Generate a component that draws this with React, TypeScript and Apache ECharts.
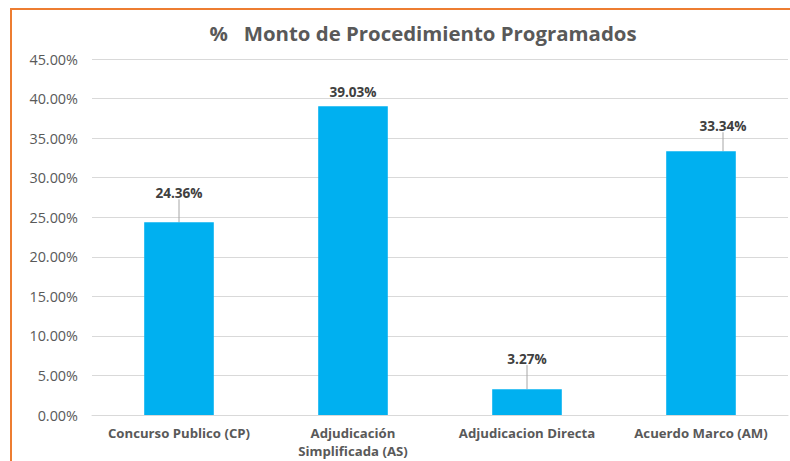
import React, { useEffect, useRef } from "react";
import * as echarts from "echarts";

const categories = [
  "Concurso Publico (CP)",
  "Adjudicación\nSimplificada (AS)",
  "Adjudicacion Directa",
  "Acuerdo Marco (AM)",
];
const values = [24.36, 39.03, 3.27, 33.34];
const yMin = 0;
const yMax = 45;
const yInterval = 5;
const titleText = "%   Monto de Procedimiento Programados";

// label displacement (style), per bar
const labelShift: [number, number][] = [
  [0, -15],
  [0, 0],
  [0, -16],
  [22, -11],
];

export default function App() {
  const ref = useRef<HTMLDivElement>(null);
  useEffect(() => {
    if (!ref.current) return;
    const chart = echarts.init(ref.current, undefined, { renderer: "svg" });
    chart.setOption({
      animation: false,
      backgroundColor: "#ffffff",
      title: {
        text: titleText,
        left: 418,
        textAlign: "center",
        top: 18,
        textStyle: {
          fontFamily: "Open Sans",
          fontSize: 20.4,
          fontWeight: "bold",
          color: "#595959",
        },
      },
      graphic: [
        {
          type: "line",
          shape: { x1: 11, y1: 9, x2: 11, y2: 470 },
          style: { stroke: "#ED7D31", lineWidth: 2 },
        },
        {
          type: "line",
          shape: { x1: 10, y1: 9, x2: 800, y2: 9 },
          style: { stroke: "#ED7D31", lineWidth: 2 },
        },
      ],
      grid: {
        left: 92,
        right: 2,
        top: 59,
        bottom: 46,
        containLabel: false,
        outerBoundsMode: "none",
      },
      xAxis: {
        type: "category",
        data: categories,
        axisTick: { show: false },
        axisLine: { lineStyle: { color: "#d9d9d9", width: 1 } },
        axisLabel: {
          interval: 0,
          margin: 9,
          color: "#595959",
          fontFamily: "Open Sans",
          fontWeight: "bold",
          fontSize: 13.2,
          lineHeight: 18,
        },
      },
      yAxis: {
        type: "value",
        min: yMin,
        max: yMax,
        interval: yInterval,
        axisLine: { show: false },
        axisTick: { show: false },
        splitLine: { lineStyle: { color: "#d9d9d9", width: 1 } },
        axisLabel: {
          formatter: (v: number) => v.toFixed(2) + "%",
          color: "#595959",
          fontFamily: "Open Sans",
          fontSize: 14.4,
          margin: 14,
        },
      },
      series: [
        {
          type: "bar",
          data: values.map((v, i) => ({
            value: v,
            labelLine: { show: labelShift[i][1] !== 0 },
          })),
          barWidth: "40%",
          itemStyle: { color: "#00B0F0" },
          label: {
            show: true,
            position: "top",
            distance: 8,
            formatter: (p: any) => p.value.toFixed(2) + "%",
            color: "#404040",
            fontFamily: "Open Sans",
            fontWeight: "bold",
            fontSize: 13.6,
          },
          labelLayout: (p: any) => ({
            dx: labelShift[p.dataIndex][0],
            dy: labelShift[p.dataIndex][1],
          }),
          labelLine: {
            show: true,
            lineStyle: { color: "#a6a6a6", width: 1 },
          },
        },
      ],
    });
    return () => chart.dispose();
  }, []);
  return (
    <div
      ref={ref}
      style={{ position: "absolute", left: 0, top: 0, width: 790, height: 461 }}
    />
  );
}
